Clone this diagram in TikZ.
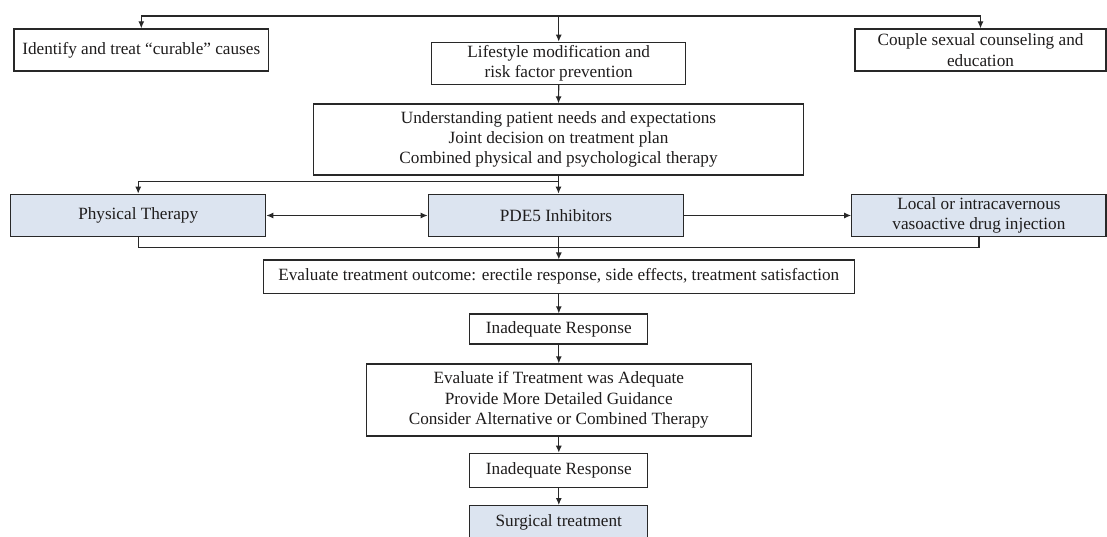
\documentclass[tikz,border=0pt]{standalone}
\usepackage{fontspec}
\setmainfont{Liberation Serif}
\usetikzlibrary{arrows.meta}
\definecolor{boxfill}{RGB}{220,228,240}
\definecolor{ink}{RGB}{30,28,28}
\definecolor{edge}{RGB}{40,40,40}
\begin{document}
\begin{tikzpicture}[x=1pt,y=-1pt,
  box/.style={draw=edge, line width=1.2pt, fill=white, text=ink,
    font=\fontsize{17.2}{20.3}\selectfont, align=center, inner sep=0pt, anchor=center},
  bluebox/.style={box, fill=boxfill},
  conn/.style={draw=edge, line width=1.2pt},
  arr/.style={conn, -{Latex[length=7pt,width=6pt]}},
  darr/.style={conn, {Latex[length=7pt,width=6pt]}-{Latex[length=7pt,width=6pt]}}]
\useasboundingbox (0,0) rectangle (1107,537);
\clip (0,0) rectangle (1107,537);

\coordinate (busTop) at (0,16);
\coordinate (busSplit) at (0,181.7);
\coordinate (busMerge) at (0,247.7);

\node[box, minimum width=254.7pt, minimum height=42pt] (ident) at (141.3,50)
  {Identify and treat “curable” causes};
\node[box, minimum width=254pt, minimum height=42pt] (life) at (558.7,63.3)
  {Lifestyle modification and\\risk factor prevention};
\node[box, minimum width=251pt, minimum height=42pt] (couple) at (980.5,50)
  {Couple sexual counseling and\\education};
\node[box, minimum width=489.4pt, minimum height=71pt] (underst) at (558.5,139.5)
  {Understanding patient needs and expectations\\Joint decision on treatment plan\\Combined physical and psychological therapy};
\node[bluebox, minimum width=255pt, minimum height=42.4pt] (phys) at (138.2,215.5)
  {Physical Therapy};
\node[bluebox, minimum width=255.4pt, minimum height=42.4pt] (pde) at (556,215.5)
  {PDE5 Inhibitors};
\node[bluebox, minimum width=254.3pt, minimum height=42.4pt] (local) at (978.9,215.5)
  {Local or intracavernous\\vasoactive drug injection};
\node[box, minimum width=591pt, minimum height=33.3pt] (evalout) at (558.8,276.7)
  {Evaluate treatment outcome: erectile response, side effects, treatment satisfaction};
\node[box, minimum width=178pt, minimum height=30pt] (inadA) at (558.8,329)
  {Inadequate Response};
\node[box, minimum width=385pt, minimum height=72pt] (evaltwo) at (558.8,400)
  {Evaluate if Treatment was Adequate\\Provide More Detailed Guidance\\Consider Alternative or Combined Therapy};
\node[box, minimum width=178pt, minimum height=34pt] (inadB) at (558.8,470.3)
  {Inadequate Response};
\node[bluebox, minimum width=178pt, minimum height=34pt] (surg) at (558.8,522.7)
  {Surgical treatment};

% top bus
\draw[conn] (ident.north |- busTop) -- (couple.north |- busTop);
\draw[arr] (ident.north |- busTop) -- (ident.north);
\draw[arr] (life.north |- busTop) -- (life.north);
\draw[arr] (couple.north |- busTop) -- (couple.north);
\draw[arr] (life.south) -- (underst.north);

% split
\draw[conn] (phys.north |- busSplit) -- (underst.south |- busSplit);
\draw[arr] (underst.south) -- (underst.south |- pde.north);
\draw[arr] (phys.north |- busSplit) -- (phys.north);
\draw[darr] (phys.east) -- (pde.west);
\draw[arr] (pde.east) -- (local.west);

% merge
\draw[conn] (phys.south) -- (phys.south |- busMerge) -- (local.south |- busMerge) -- (local.south);
\draw[arr] (evalout.north |- pde.south) -- (evalout.north);

% chain
\draw[arr] (evalout.south) -- (inadA.north);
\draw[arr] (inadA.south) -- (evaltwo.north);
\draw[arr] (evaltwo.south) -- (inadB.north);
\draw[arr] (inadB.south) -- (surg.north);
\end{tikzpicture}
\end{document}
